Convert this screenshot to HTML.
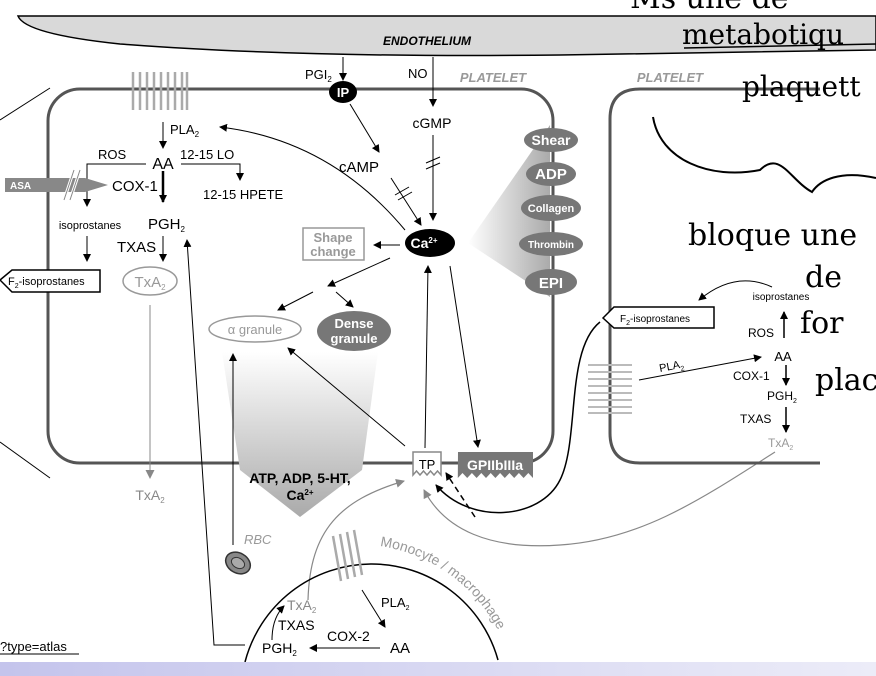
<!DOCTYPE html>
<html><head><meta charset="utf-8"><style>
html,body{margin:0;padding:0;background:#fff;}
svg{display:block;font-family:"Liberation Sans",Arial,sans-serif;}
.h{font-family:"DejaVu Serif","Liberation Serif",serif;font-weight:normal;fill:#000;}
</style></head><body>
<svg width="876" height="676" viewBox="0 0 876 676" xmlns="http://www.w3.org/2000/svg">
<defs>
<marker id="a" markerWidth="8" markerHeight="8" refX="7" refY="4" orient="auto" markerUnits="userSpaceOnUse"><path d="M0,0 L8,4 L0,8 Z" fill="#000"/></marker>
<marker id="g" markerWidth="9" markerHeight="9" refX="8" refY="4.5" orient="auto" markerUnits="userSpaceOnUse"><path d="M0,0 L9,4.5 L0,9 Z" fill="#888"/></marker>
<linearGradient id="fun" x1="0" y1="0" x2="0" y2="1"><stop offset="0" stop-color="#fff"/><stop offset="1" stop-color="#aaa"/></linearGradient>
<linearGradient id="tri" x1="1" y1="0" x2="0" y2="0"><stop offset="0" stop-color="#aaa"/><stop offset="1" stop-color="#fff"/></linearGradient>
<linearGradient id="strip" x1="0" y1="0" x2="1" y2="0"><stop offset="0" stop-color="#c4c4ec"/><stop offset="1" stop-color="#ececf8"/></linearGradient>
</defs>
<path d="M18,16 L876,16 L876,50 L560,55 Q300,58 120,44 Q25,34 18,16 Z" fill="#d9d9d9" stroke="#000" stroke-width="1.5"/>
<text x="427" y="45" font-size="12" font-weight="bold" font-style="italic" text-anchor="middle">ENDOTHELIUM</text>
<line x1="0" y1="120" x2="50" y2="88" stroke="#000"/>
<line x1="0" y1="442" x2="50" y2="478" stroke="#000"/>
<rect x="48" y="89" width="505" height="374" rx="32" fill="none" stroke="#555" stroke-width="3"/>
<polygon points="222,352 378,352 362,470 300,517 240,470" fill="url(#fun)"/>
<polygon points="550,125 550,297 468,243" fill="url(#tri)"/>
<g stroke="#aaa" stroke-width="2.5" fill="none">
<path d="M133,72 v38 M140,72 v38 M147,72 v38 M154,72 v38 M161,72 v38 M168,72 v38 M175,72 v38 M182,72 v38 M187,72 v38"/>
</g>
<text x="305" y="79" font-size="13">PGI<tspan font-size="8" dy="3">2</tspan></text>
<line x1="343" y1="57" x2="343" y2="80" stroke="#000" marker-end="url(#a)"/>
<ellipse cx="343" cy="92" rx="14" ry="11" fill="#000"/>
<text x="343" y="97" font-size="13" font-weight="bold" fill="#fff" text-anchor="middle">IP</text>
<text x="408" y="78" font-size="13">NO</text>
<line x1="433" y1="57" x2="433" y2="106" stroke="#000" marker-end="url(#a)"/>
<text x="493" y="82" font-size="13" font-weight="bold" font-style="italic" fill="#999" text-anchor="middle">PLATELET</text>
<text x="432" y="128" font-size="14" text-anchor="middle">cGMP</text>
<line x1="433" y1="135" x2="433" y2="220" stroke="#000" marker-end="url(#a)"/>
<path d="M426,163 l14,-6 M426,169 l14,-6" stroke="#000"/>
<line x1="350" y1="104" x2="379" y2="152" stroke="#000" marker-end="url(#a)"/>
<text x="359" y="172" font-size="15" text-anchor="middle">cAMP</text>
<line x1="391" y1="178" x2="421" y2="225" stroke="#000" marker-end="url(#a)"/>
<path d="M395,195 l14,-8 M398,200 l14,-8" stroke="#000"/>
<line x1="163" y1="122" x2="163" y2="148" stroke="#000" marker-end="url(#a)"/>
<text x="170" y="134" font-size="13">PLA<tspan font-size="8" dy="3">2</tspan></text>
<text x="98" y="159" font-size="13">ROS</text>
<text x="163" y="169" font-size="16" text-anchor="middle">AA</text>
<text x="180" y="159" font-size="13">12-15 LO</text>
<path d="M181,164 H240 V180" fill="none" stroke="#000" marker-end="url(#a)"/>
<text x="203" y="199" font-size="13">12-15 HPETE</text>
<path d="M146,164 H87 V206" fill="none" stroke="#000" marker-end="url(#a)"/>
<text x="90" y="229" font-size="11" text-anchor="middle">isoprostanes</text>
<line x1="87" y1="236" x2="87" y2="261" stroke="#000" marker-end="url(#a)"/>
<polygon points="0,280 12,270 100,270 100,292 12,292" fill="#fff" stroke="#000" stroke-width="1.5"/>
<text x="8" y="285" font-size="11">F<tspan font-size="7" dy="3">2</tspan><tspan dy="-3">-isoprostanes</tspan></text>
<polygon points="5,178 85,178 108,185 85,192 5,192" fill="#888"/>
<text x="10" y="189" font-size="10" font-weight="bold" fill="#fff">ASA</text>
<path d="M64,200 l10,-30 M70,200 l10,-30" stroke="#fff" stroke-width="3"/>
<path d="M64,200 l10,-30 M70,200 l10,-30" stroke="#888" stroke-width="1"/>
<text x="112" y="191" font-size="15">COX-1</text>
<line x1="163" y1="171" x2="163" y2="202" stroke="#000" stroke-width="2.5" marker-end="url(#a)"/>
<text x="148" y="229" font-size="15">PGH<tspan font-size="8" dy="3">2</tspan></text>
<text x="117" y="252" font-size="15">TXAS</text>
<line x1="163" y1="236" x2="163" y2="261" stroke="#000" marker-end="url(#a)"/>
<ellipse cx="150" cy="281" rx="27" ry="14" fill="#fff" stroke="#999" stroke-width="1.5"/>
<text x="150" y="287" font-size="15" fill="#999" text-anchor="middle">TxA<tspan font-size="8" dy="3">2</tspan></text>
<line x1="150" y1="305" x2="150" y2="478" stroke="#888" marker-end="url(#g)"/>
<text x="150" y="500" font-size="14" fill="#888" text-anchor="middle">TxA<tspan font-size="8" dy="3">2</tspan></text>
<path d="M245,645 H214 L187,240" fill="none" stroke="#000" marker-end="url(#a)"/>
<path d="M405,230 Q330,140 220,127" fill="none" stroke="#000" marker-end="url(#a)"/>
<ellipse cx="430" cy="243" rx="25" ry="14" fill="#000"/>
<text x="424" y="248" font-size="14" font-weight="bold" fill="#fff" text-anchor="middle">Ca<tspan font-size="8" dy="-5">2+</tspan></text>
<rect x="303" y="228" width="61" height="32" fill="#fff" stroke="#999" stroke-width="1.5"/>
<text x="333" y="242" font-size="13" font-weight="bold" fill="#999" text-anchor="middle">Shape</text>
<text x="333" y="256" font-size="13" font-weight="bold" fill="#999" text-anchor="middle">change</text>
<line x1="400" y1="245" x2="374" y2="245" stroke="#000" marker-end="url(#a)"/>
<line x1="390" y1="258" x2="328" y2="286" stroke="#000" marker-end="url(#a)"/>
<line x1="313" y1="292" x2="278" y2="310" stroke="#000" marker-end="url(#a)"/>
<line x1="336" y1="292" x2="353" y2="307" stroke="#000" marker-end="url(#a)"/>
<ellipse cx="255" cy="329" rx="46" ry="13" fill="#fff" stroke="#999" stroke-width="1.5"/>
<text x="255" y="334" font-size="13" fill="#999" text-anchor="middle">α granule</text>
<ellipse cx="354" cy="331" rx="37" ry="20" fill="#777"/>
<text x="354" y="328" font-size="13" font-weight="bold" fill="#fff" text-anchor="middle">Dense</text>
<text x="354" y="343" font-size="13" font-weight="bold" fill="#fff" text-anchor="middle">granule</text>
<g fill="#777">
<ellipse cx="551" cy="140" rx="27" ry="12"/><ellipse cx="551" cy="174" rx="25" ry="12"/><ellipse cx="551" cy="208" rx="30" ry="13"/><ellipse cx="551" cy="244" rx="32" ry="12"/><ellipse cx="551" cy="282" rx="26" ry="13"/>
</g>
<g fill="#fff" font-weight="bold" text-anchor="middle">
<text x="551" y="145" font-size="14">Shear</text><text x="551" y="179" font-size="15">ADP</text><text x="551" y="212" font-size="11">Collagen</text><text x="551" y="248" font-size="10">Thrombin</text><text x="551" y="288" font-size="15">EPI</text>
</g>
<text x="300" y="483" font-size="14" font-weight="bold" text-anchor="middle">ATP, ADP, 5-HT,</text>
<text x="300" y="500" font-size="14" font-weight="bold" text-anchor="middle">Ca<tspan font-size="8" dy="-5">2+</tspan></text>
<line x1="233" y1="545" x2="233" y2="354" stroke="#000" marker-end="url(#a)"/>
<text x="244" y="544" font-size="13" font-style="italic" fill="#999">RBC</text>
<ellipse cx="238" cy="563" rx="13" ry="10" fill="#888" stroke="#333" stroke-width="1.5" transform="rotate(30 238 563)"/>
<ellipse cx="238" cy="563" rx="7" ry="5" fill="#aaa" stroke="#333" transform="rotate(30 238 563)"/>
<line x1="405" y1="446" x2="288" y2="348" stroke="#000" marker-end="url(#a)"/>
<line x1="425" y1="448" x2="428" y2="266" stroke="#000" marker-end="url(#a)"/>
<line x1="450" y1="266" x2="478" y2="447" stroke="#000" marker-end="url(#a)"/>
<path d="M413,452 H441 V475 l-3.5,-4 -3.5,4 -3.5,-4 -3.5,4 -3.5,-4 -3.5,4 -3.5,-4 -3.5,4 Z" fill="#fff" stroke="#888" stroke-width="1.5"/>
<text x="427" y="469" font-size="13" text-anchor="middle">TP</text>
<path d="M458,452 H533 V478 l-4.7,-5 -4.7,5 -4.7,-5 -4.7,5 -4.7,-5 -4.7,5 -4.7,-5 -4.7,5 -4.7,-5 -4.7,5 -4.7,-5 -4.7,5 -4.7,-5 -4.7,5 -4.7,-5 -4.7,5 Z" fill="#777"/>
<text x="495" y="470" font-size="14" font-weight="bold" fill="#fff" text-anchor="middle">GPIIbIIIa</text>
<line x1="475" y1="517" x2="446" y2="473" stroke="#000" stroke-width="1.5" stroke-dasharray="6,4" marker-end="url(#a)"/>
<path d="M600,322 C565,350 580,440 560,480 C540,520 470,525 436,485" fill="none" stroke="#000" stroke-width="1.5" marker-end="url(#a)"/>
<path d="M775,452 C700,500 640,540 560,545 C490,550 445,530 424,490" fill="none" stroke="#888" stroke-width="1.2" marker-end="url(#g)"/>
<path d="M308,600 C310,530 340,500 404,481" fill="none" stroke="#888" stroke-width="1.2" marker-end="url(#g)"/>
<path d="M245,662 A131,131 0 0 1 498,660" fill="none" stroke="#000" stroke-width="1.5"/>
<g stroke="#aaa" stroke-width="2.5"><path d="M333,536 l8,45 M340,534 l8,45 M347,532 l8,45 M354,530 l8,45"/></g>
<path id="arc" d="M380,546 A160,160 0 0 1 512,668" fill="none"/>
<text font-size="14" fill="#999"><textPath href="#arc">Monocyte / macrophage</textPath></text>
<line x1="362" y1="590" x2="385" y2="627" stroke="#000" marker-end="url(#a)"/>
<text x="381" y="607" font-size="13">PLA<tspan font-size="7" dy="3">2</tspan></text>
<text x="390" y="653" font-size="15">AA</text>
<text x="327" y="641" font-size="14">COX-2</text>
<line x1="380" y1="648" x2="310" y2="648" stroke="#000" marker-end="url(#a)"/>
<text x="262" y="653" font-size="14">PGH<tspan font-size="8" dy="3">2</tspan></text>
<text x="278" y="630" font-size="14">TXAS</text>
<text x="287" y="610" font-size="14" fill="#888">TxA<tspan font-size="8" dy="3">2</tspan></text>
<path d="M272,640 Q272,618 284,606" fill="none" stroke="#000" marker-end="url(#a)"/>
<text x="0" y="651" font-size="13">?type=atlas</text>
<line x1="0" y1="654" x2="79" y2="654" stroke="#000"/>
<path d="M820,89 H640 Q610,89 610,119 V433 Q610,463 640,463 H820" fill="none" stroke="#555" stroke-width="3"/>
<text x="670" y="82" font-size="13" font-weight="bold" font-style="italic" fill="#999" text-anchor="middle">PLATELET</text>
<text x="781" y="300" font-size="10" text-anchor="middle">isoprostanes</text>
<path d="M772,287 Q735,270 699,300" fill="none" stroke="#000" marker-end="url(#a)"/>
<polygon points="603,318 614,307 714,307 714,328 614,328" fill="#fff" stroke="#000" stroke-width="1.5"/>
<text x="620" y="322" font-size="10">F<tspan font-size="7" dy="3">2</tspan><tspan dy="-3">-isoprostanes</tspan></text>
<line x1="784" y1="338" x2="784" y2="312" stroke="#000" stroke-width="1.5" marker-end="url(#a)"/>
<text x="748" y="337" font-size="12">ROS</text>
<text x="783" y="361" font-size="13" text-anchor="middle">AA</text>
<line x1="639" y1="380" x2="761" y2="357" stroke="#000" marker-end="url(#a)"/>
<text x="660" y="372" font-size="11" transform="rotate(-11 660 372)">PLA<tspan font-size="7" dy="3">2</tspan></text>
<text x="733" y="380" font-size="12">COX-1</text>
<line x1="786" y1="365" x2="786" y2="385" stroke="#000" stroke-width="1.5" marker-end="url(#a)"/>
<text x="767" y="400" font-size="12">PGH<tspan font-size="7" dy="3">2</tspan></text>
<text x="740" y="423" font-size="12">TXAS</text>
<line x1="786" y1="407" x2="786" y2="432" stroke="#000" stroke-width="1.5" marker-end="url(#a)"/>
<text x="768" y="447" font-size="12" fill="#999">TxA<tspan font-size="7" dy="3">2</tspan></text>
<g stroke="#bbb" stroke-width="2"><path d="M588,365 h44 M588,372 h44 M588,379 h44 M588,386 h44 M588,393 h44 M588,400 h44 M588,407 h44 M588,413 h44"/></g>
<text class="h" x="630" y="8" font-size="30">Ms une dé</text>
<text class="h" x="682" y="44" font-size="28">metabotiqu</text>
<line x1="684" y1="48" x2="876" y2="44" stroke="#000" stroke-width="1.5"/>
<text class="h" x="742" y="96" font-size="28">plaquett</text>
<path d="M653,117 C660,160 710,180 760,170 C780,150 790,180 812,192 C820,180 840,170 876,178" fill="none" stroke="#000" stroke-width="2"/>
<text class="h" x="688" y="245" font-size="30">bloque une</text>
<text class="h" x="805" y="287" font-size="30">de</text>
<text class="h" x="800" y="333" font-size="30">for</text>
<text class="h" x="815" y="390" font-size="30">plac</text>
<rect x="0" y="662" width="876" height="14" fill="url(#strip)"/>
</svg>
</body></html>
